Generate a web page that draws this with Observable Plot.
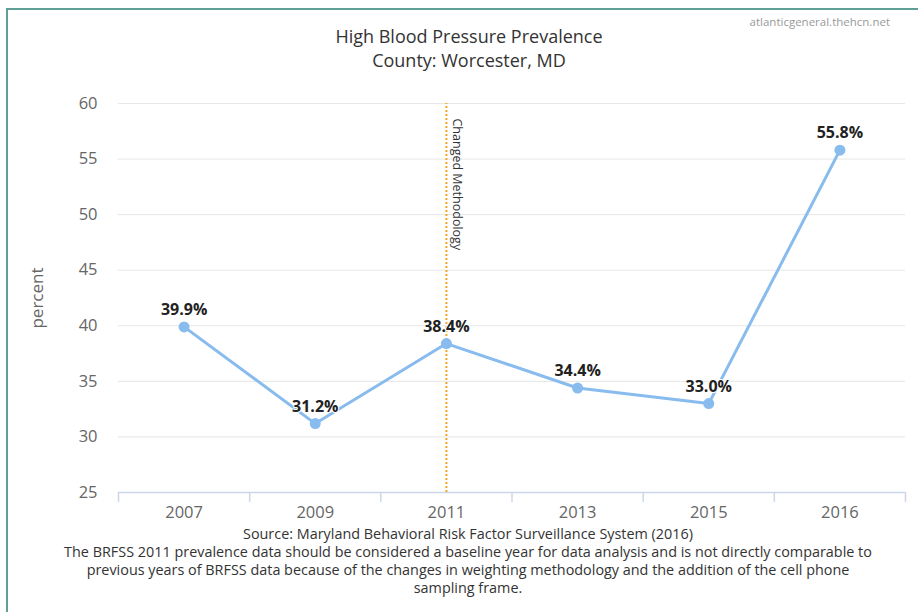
<!DOCTYPE html>
<html>
<head>
<meta charset="utf-8">
<script src="https://cdn.jsdelivr.net/npm/d3@7"></script>
<script src="https://cdn.jsdelivr.net/npm/@observablehq/plot@0.6"></script>
<style>
  html, body { margin: 0; padding: 0; background: #fff; }
  #wrap { position: relative; width: 918px; height: 612px; overflow: hidden; font-family: "Open Sans", sans-serif; }
  #frame { position: absolute; left: 6px; top: 8px; right: -4px; bottom: -4px; border-left: 2px solid #5e9f96; border-top: 2px solid #5e9f96; }
  #title { position: absolute; left: 0; top: 24px; width: 938px; text-align: center; font-size: 18px; line-height: 24px; color: #333; }
  #credit { position: absolute; right: 28px; top: 14px; font-size: 11.5px; color: #999; }
  #caption { position: absolute; left: 0; top: 525px; width: 936px; text-align: center; font-size: 14.4px; line-height: 18px; color: #333; white-space: nowrap; }
  #chart { position: absolute; left: 0; top: 0; }
</style>
</head>
<body>
<div id="wrap">
  <div id="frame"></div>
  <div id="chart"></div>
  <div id="title"></div>
  <div id="credit"></div>
  <div id="caption"></div>
</div>
<script>
const titleLines = ["High Blood Pressure Prevalence", "County: Worcester, MD"];
const credit = "atlanticgeneral.thehcn.net";
const captionLines = [
  "Source: Maryland Behavioral Risk Factor Surveillance System (2016)",
  "The BRFSS 2011 prevalence data should be considered a baseline year for data analysis and is not directly comparable to",
  "previous years of BRFSS data because of the changes in weighting methodology and the addition of the cell phone",
  "sampling frame."
];
const years = ["2007", "2009", "2011", "2013", "2015", "2016"];
const values = [39.9, 31.2, 38.4, 34.4, 33.0, 55.8];
const yTicks = [25, 30, 35, 40, 45, 50, 55, 60];
const changeYear = "2011";
const annotation = "Changed Methodology";
const yLabel = "percent";

document.getElementById("title").innerHTML = titleLines.join("<br>");
document.getElementById("credit").textContent = credit;
document.getElementById("caption").innerHTML = captionLines.join("<br>");

const data = years.map((year, i) => ({i, year, value: values[i]}));
const edges = d3.range(years.length + 1).map(i => i - 0.5);
const lineColor = "#88bbee";

const chart = Plot.plot({
  width: 918,
  height: 612,
  marginLeft: 118,
  marginRight: 13,
  marginTop: 103,
  marginBottom: 120,
  style: {fontFamily: "'Open Sans', sans-serif", background: "transparent", overflow: "visible"},
  x: {domain: [-0.5, years.length - 0.5], axis: null},
  y: {domain: [d3.min(yTicks), d3.max(yTicks)], axis: null},
  marks: [
    Plot.ruleY(yTicks.slice(1), {stroke: "#e6e6e6", strokeWidth: 1}),
    Plot.ruleY([yTicks[0]], {stroke: "#ccd6eb", strokeWidth: 1.5}),
    Plot.ruleX(edges, {y1: yTicks[0], y2: yTicks[0], insetBottom: -10, stroke: "#ccd6eb", strokeWidth: 1.5}),
    Plot.axisY({ticks: yTicks, tickSize: 0, tickPadding: 21, fontSize: 16.5, fill: "#666", label: null}),
    Plot.axisX({ticks: d3.range(years.length), tickFormat: i => years[i], tickSize: 0, tickPadding: 14, fontSize: 16.5, fill: "#666", label: null}),
    Plot.text([yLabel], {frameAnchor: "left", textAnchor: "middle", dx: -81, rotate: -90, fontSize: 17, fill: "#666"}),
    Plot.ruleX([years.indexOf(changeYear)], {y1: yTicks[0], y2: d3.max(yTicks), stroke: "#f5a623", strokeWidth: 2, strokeDasharray: "2,2"}),
    Plot.text([annotation], {x: years.indexOf(changeYear), y: d3.max(yTicks), dx: 11, dy: 15, rotate: 90, textAnchor: "start", fontSize: 12.5, fill: "#333"}),
    Plot.line(data, {x: "i", y: "value", stroke: lineColor, strokeWidth: 3}),
    Plot.dot(data, {x: "i", y: "value", r: 5.5, fill: lineColor}),
    Plot.text(data, {x: "i", y: "value", text: d => d.value.toFixed(1) + "%", dy: -17, fontSize: 16, fontWeight: "bold", fill: "#222", stroke: "white", strokeWidth: 2})
  ]
});
document.getElementById("chart").appendChild(chart);
</script>
</body>
</html>
